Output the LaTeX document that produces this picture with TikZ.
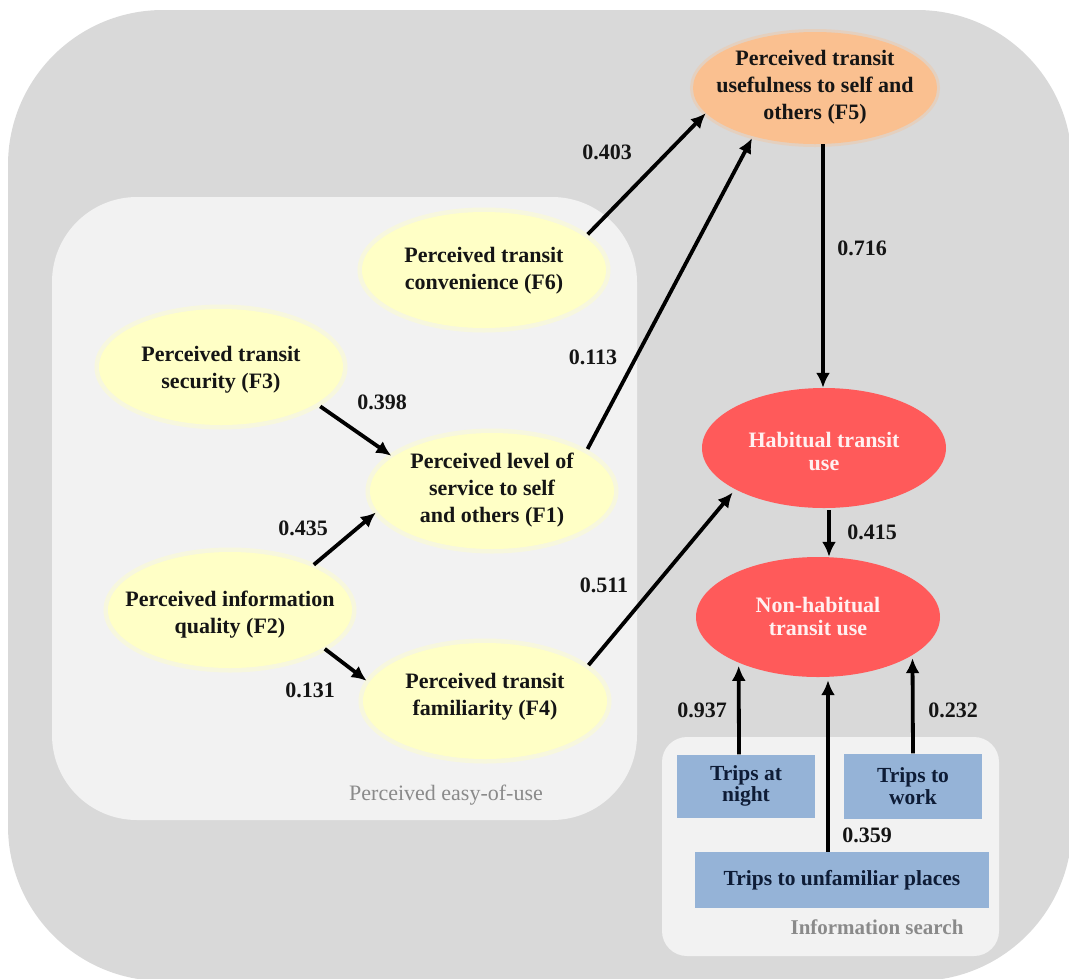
\documentclass[tikz,border=0pt]{standalone}
\usepackage{fontspec}
\setmainfont{Liberation Serif}
\usetikzlibrary{arrows.meta,shapes.geometric,calc}

\definecolor{outerbg}{HTML}{D9D9D9}
\definecolor{panel}{HTML}{F2F2F2}
\definecolor{factor}{HTML}{FFFFC6}
\definecolor{useful}{HTML}{FAC090}
\definecolor{usecol}{HTML}{FF5A5A}
\definecolor{usetext}{HTML}{FFF0F0}
\definecolor{tripcol}{HTML}{95B3D7}
\definecolor{tripink}{HTML}{0E1C36}
\definecolor{captiongray}{HTML}{8A8A8A}
\definecolor{ink}{HTML}{151515}

\begin{document}
\begin{tikzpicture}[x=1pt,y=-1pt,
  every node/.style={font=\fontsize{22}{27}\selectfont\bfseries, text=ink},
  blob/.style={ellipse, inner sep=0pt, minimum width=244pt, minimum height=116pt},
  factorblob/.style={blob, fill=factor,
    preaction={draw=factor, line width=9pt, draw opacity=0.45}},
  usefulblob/.style={blob, minimum height=112pt, fill=useful,
    preaction={draw=useful, line width=6pt, draw opacity=0.35}},
  useblob/.style={blob, minimum height=120pt, fill=usecol},
  blobtext/.style={align=center, inner sep=0pt},
  usetextstyle/.style={blobtext, text=usetext, font=\fontsize{22}{23}\selectfont\bfseries},
  tripbox/.style={rectangle, fill=tripcol, inner sep=0pt, align=center, text=tripink,
    font=\fontsize{21.5}{21.5}\selectfont\bfseries},
  coef/.style={inner sep=0pt},
  caption/.style={inner sep=0pt, text=captiongray},
  link/.style={line width=3.8pt, draw=black, -{Latex[length=15pt,width=14pt]}}
]
\useasboundingbox (0,0) rectangle (1069,978);

% grouping panels
\fill[outerbg, rounded corners=155pt] (8,10) rectangle (1072,981);
\fill[panel, rounded corners=85pt] (52,197) rectangle (637,820);
\fill[panel, rounded corners=25pt] (662,737) rectangle (999,956);

% latent factors
\node[usefulblob] (F5) at (815,88) {};
\node[blobtext] (F5t) at (815,87) {Perceived transit\\usefulness to self and\\others (F5)};

\node[factorblob] (F6) at (484,270) {};
\node[blobtext] (F6t) at (484,271) {Perceived transit\\convenience (F6)};

\node[factorblob] (F3) at (221,367) {};
\node[blobtext] (F3t) at (221,370) {Perceived transit\\security (F3)};

\node[factorblob] (F1) at (492,491) {};
\node[blobtext] (F1t) at (492,490) {Perceived level of\\service to self\\and others (F1)};

\node[factorblob] (F2) at (230,610) {};
\node[blobtext] (F2t) at (230,615) {Perceived information\\quality (F2)};

\node[factorblob] (F4) at (485,701) {};
\node[blobtext] (F4t) at (485,697) {Perceived transit\\familiarity (F4)};

% transit use outcomes
\node[useblob] (HAB) at (824,448) {};
\node[usetextstyle] (HABt) at (824,451) {Habitual transit\\use};

\node[useblob] (NON) at (818,617) {};
\node[usetextstyle] (NONt) at (818,616) {Non-habitual\\transit use};

% information search indicators
\node[tripbox, minimum width=138pt, minimum height=63pt] (night) at (746,786) {Trips at\\night};
\node[tripbox, minimum width=138pt, minimum height=65pt] (work) at (913,786) {Trips to\\work};
\node[tripbox, minimum width=294pt, minimum height=56pt] (unfam) at (842,880) {Trips to unfamiliar places};

% panel captions
\node[caption, font=\fontsize{22}{27}\selectfont\mdseries] (easycap) at (446,795) {Perceived easy-of-use};
\node[caption, font=\fontsize{21}{27}\selectfont\bfseries] (infocap) at (877,927) {Information search};

% structural paths
\draw[link, shorten <=4pt] (F6.18) -- (F5.193);
\draw[link, shorten <=5pt, shorten >=2pt] (F1.22) -- (F5.218);
\draw[link] ([xshift=8pt]F5.south) -- ([xshift=-1pt]HAB.north);
\draw[link, shorten <=5pt, shorten >=2pt] (F3.-21) -- (F1.161);
\draw[link, shorten <=3pt, shorten >=2pt] (F2.28) -- (F1.190);
\draw[link, shorten <=2pt, shorten >=3pt] (F2.-22) -- (F4.171);
\draw[link, shorten <=4pt, shorten >=4pt] (F4.18) -- (HAB.205);
\draw[link, shorten <=2pt] ([xshift=5pt]HAB.south) -- ([xshift=11pt]NON.north);
\draw[link, shorten >=3pt] ([xshift=-7pt]night.north) -- (NON.210);
\draw[link, shorten >=3pt] (work.north) -- (NON.338);
\draw[link, shorten >=3pt] ([xshift=-14pt]unfam.north) -- ([xshift=10pt]NON.south);

% path coefficients
\node[coef] (c403) at (607,152) {0.403};
\node[coef] (c716) at (862,248) {0.716};
\node[coef] (c113) at (593,357) {0.113};
\node[coef] (c398) at (382,402) {0.398};
\node[coef] (c435) at (303,528) {0.435};
\node[coef] (c511) at (604,585) {0.511};
\node[coef] (c131) at (310,690) {0.131};
\node[coef] (c415) at (872,532) {0.415};
\node[coef] (c937) at (702,710) {0.937};
\node[coef] (c232) at (953,710) {0.232};
\node[coef] (c359) at (867,835) {0.359};
\end{tikzpicture}
\end{document}
